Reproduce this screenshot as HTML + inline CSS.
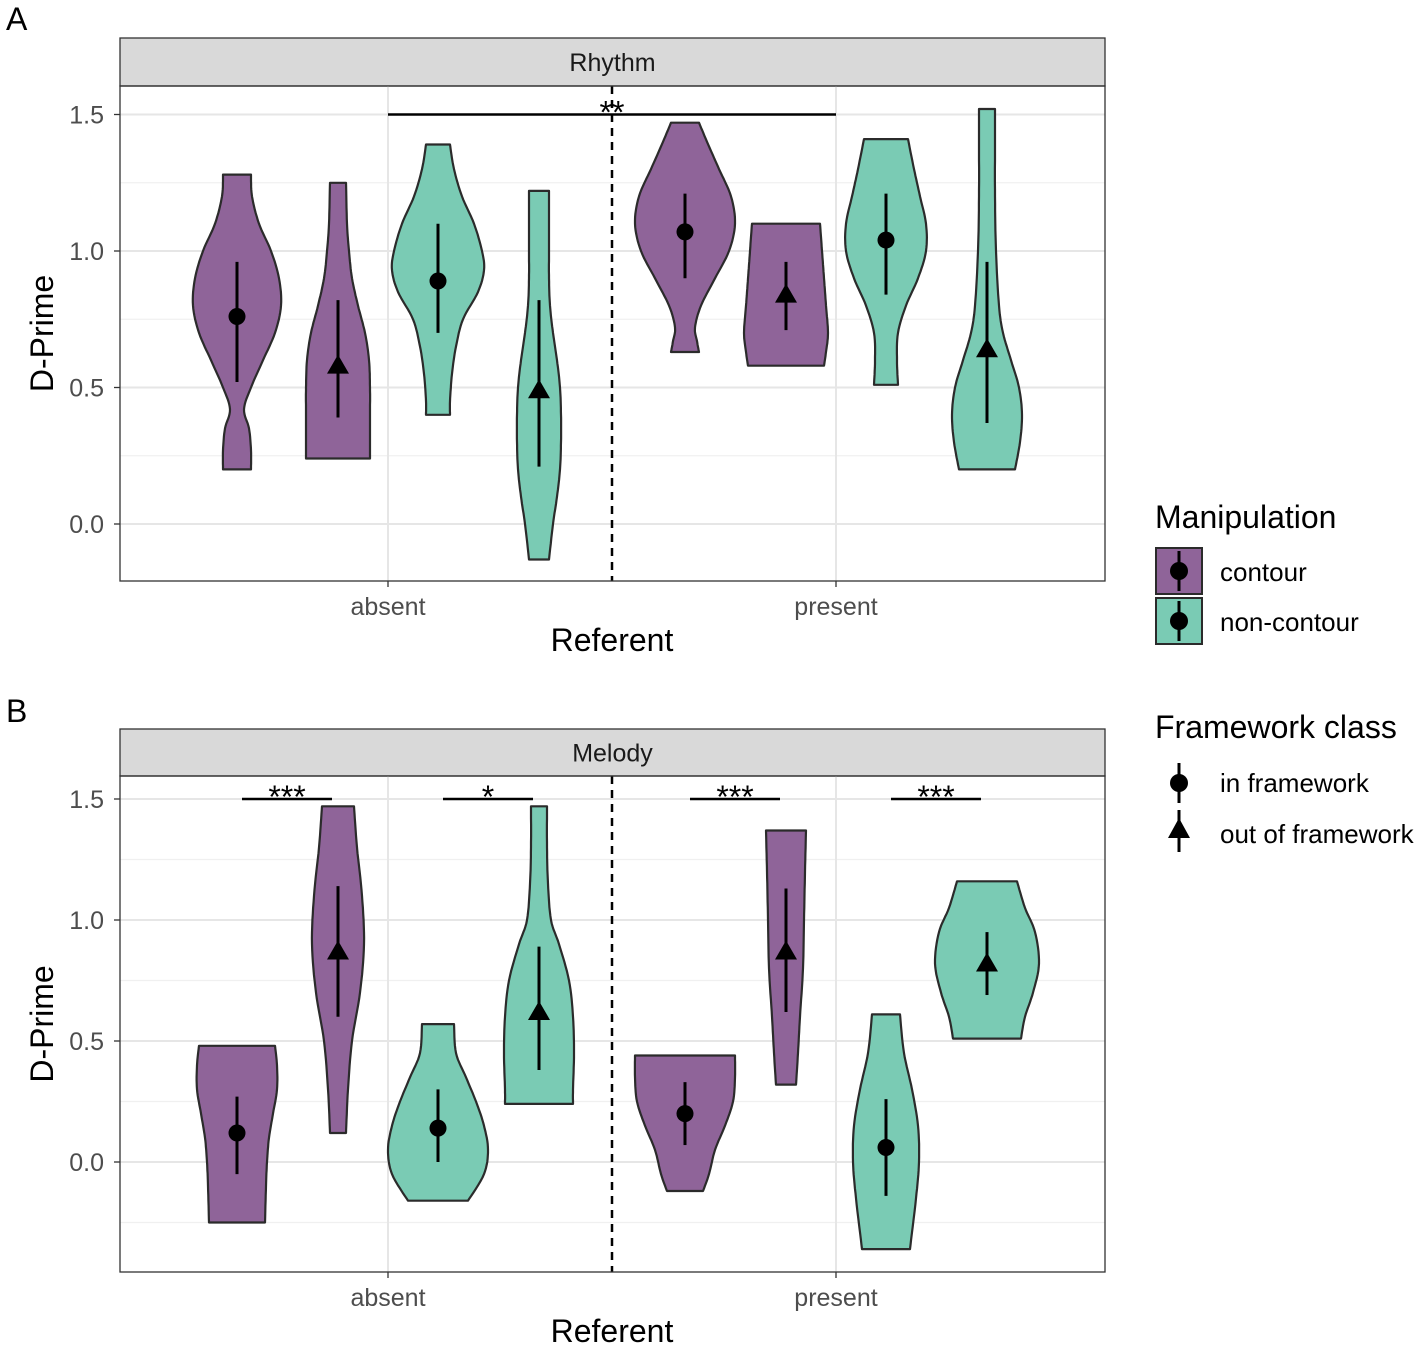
<!DOCTYPE html>
<html><head><meta charset="utf-8"><style>
body{margin:0;background:#fff;}
svg{display:block;font-family:"Liberation Sans",Arial,sans-serif;}
</style></head><body>
<svg id="chart" width="1417" height="1349" viewBox="0 0 1417 1349"></svg>
<script>
// ---- data ----
const groups = ['absent','present'];
const manip = ['contour','contour','non-contour','non-contour','contour','contour','non-contour','non-contour'];
const frame = ['in','out','in','out','in','out','in','out'];
const groupOfViolin = [0,0,0,0,1,1,1,1];
const yTicks = [0,0.5,1,1.5];
const yTickLabels = ['0.0','0.5','1.0','1.5'];

const pointA = [0.76,0.58,0.89,0.49,1.07,0.84,1.04,0.64];
const lowA   = [0.52,0.39,0.70,0.21,0.90,0.71,0.84,0.37];
const highA  = [0.96,0.82,1.10,0.82,1.21,0.96,1.21,0.96];
const shapeA = [
 [[1.28,14],[1.2,15],[1.1,22],[1.0,34],[0.9,42],[0.8,44],[0.7,38],[0.6,26],[0.5,14],[0.42,7],[0.35,12],[0.27,14],[0.2,14]],
 [[1.25,8],[1.1,9],[1.0,11],[0.9,14],[0.8,20],[0.7,27],[0.6,31],[0.5,32],[0.4,32],[0.3,32],[0.24,32]],
 [[1.39,12],[1.3,16],[1.2,24],[1.1,36],[1.0,44],[0.93,46],[0.85,40],[0.75,25],[0.65,18],[0.55,14],[0.45,12],[0.4,12]],
 [[1.22,10],[1.1,10],[1.0,10],[0.9,10],[0.8,11],[0.7,14],[0.6,18],[0.5,21],[0.4,22],[0.3,22],[0.2,21],[0.1,18],[0.0,14],[-0.13,10]],
 [[1.47,14],[1.4,22],[1.3,34],[1.2,46],[1.1,50],[1.0,44],[0.9,30],[0.8,16],[0.72,10],[0.67,12],[0.63,14]],
 [[1.1,34],[1.0,36],[0.9,38],[0.8,40],[0.7,42],[0.63,40],[0.58,38]],
 [[1.41,22],[1.3,28],[1.2,34],[1.1,40],[1.0,40],[0.9,32],[0.8,20],[0.7,12],[0.6,11],[0.51,12]],
 [[1.52,8],[1.4,8],[1.2,8],[1.0,9],[0.8,12],[0.7,16],[0.6,24],[0.5,32],[0.4,35],[0.3,33],[0.2,28]]
];
const pointB = [0.12,0.87,0.14,0.62,0.20,0.87,0.06,0.82];
const lowB   = [-0.05,0.60,0.00,0.38,0.07,0.62,-0.14,0.69];
const highB  = [0.27,1.14,0.30,0.89,0.33,1.13,0.26,0.95];
const shapeB = [
 [[0.48,38],[0.4,40],[0.3,40],[0.2,36],[0.1,32],[0.0,30],[-0.1,29],[-0.25,28]],
 [[1.47,16],[1.3,19],[1.1,24],[0.9,26],[0.7,22],[0.5,14],[0.3,10],[0.12,8]],
 [[0.57,16],[0.45,18],[0.35,28],[0.25,38],[0.15,46],[0.05,50],[-0.05,46],[-0.16,30]],
 [[1.47,8],[1.3,8],[1.15,9],[1.0,12],[0.9,20],[0.75,30],[0.6,34],[0.45,35],[0.3,34],[0.24,34]],
 [[0.44,50],[0.35,50],[0.25,48],[0.15,40],[0.05,30],[-0.05,24],[-0.12,18]],
 [[1.37,20],[1.2,19],[1.0,18],[0.8,17],[0.6,14],[0.45,12],[0.32,10]],
 [[0.61,14],[0.45,18],[0.3,26],[0.15,32],[0.0,33],[-0.15,30],[-0.36,24]],
 [[1.16,30],[1.05,38],[0.95,48],[0.82,52],[0.7,46],[0.6,38],[0.51,34]]
];
const sigA = [{from:0,to:1,label:'**'}];
const sigB = [{violins:[0,1],label:'***'},{violins:[2,3],label:'*'},{violins:[4,5],label:'***'},{violins:[6,7],label:'***'}];

// ---- drawing ----
const NS='http://www.w3.org/2000/svg';
const svg=document.getElementById('chart');
function el(tag,attrs,parent){const e=document.createElementNS(NS,tag);for(const k in attrs)e.setAttribute(k,attrs[k]);(parent||svg).appendChild(e);return e;}
const fills={'contour':'#8f6499','non-contour':'#7acbb4'};
const xGroup=i=>388+i*448;
const dodge=[-151,-50,50,151];
const xViolin=i=>xGroup(groupOfViolin[i])+dodge[i%4];

function smooth(pts){
  const out=[];
  for(let i=0;i<pts.length-1;i++){
    const p0=pts[Math.max(0,i-1)],p1=pts[i],p2=pts[i+1],p3=pts[Math.min(pts.length-1,i+2)];
    for(let t=0;t<1;t+=0.125){
      const t2=t*t,t3=t2*t;
      const f=(a,b,c,d)=>0.5*((2*b)+(-a+c)*t+(2*a-5*b+4*c-d)*t2+(-a+3*b-3*c+d)*t3);
      out.push([f(p0[0],p1[0],p2[0],p3[0]),f(p0[1],p1[1],p2[1],p3[1])]);
    }
  }
  out.push(pts[pts.length-1]);return out;
}

function panel(cfg){
  const {top,bottom,stripTop,title,y,points,lows,highs,shapes,tag}=cfg;
  const L=120,R=1105;
  const g=el('g',{},svg);
  
  el('rect',{x:L,y:stripTop,width:R-L,height:top-stripTop,fill:'#d9d9d9',stroke:'#333','stroke-width':1.3,},g);
  const st=el('text',{x:(L+R)/2,y:(stripTop+top)/2+9,'text-anchor':'middle','font-size':25,fill:'#1a1a1a',},g);st.textContent=title;
  const minors=[-0.25,0.25,0.75,1.25];
  minors.forEach(v=>{const yy=y(v);if(yy>top&&yy<bottom)el('line',{x1:L,x2:R,y1:yy,y2:yy,stroke:'#f0f0f0','stroke-width':1.2},g);});
  yTicks.forEach((v,i)=>{const yy=y(v);
    el('line',{x1:L,x2:R,y1:yy,y2:yy,stroke:'#e6e6e6','stroke-width':2},g);
    el('line',{x1:L-6,x2:L,y1:yy,y2:yy,stroke:'#333','stroke-width':1.3},g);
    const t=el('text',{x:104,y:yy+9,'text-anchor':'end','font-size':25,fill:'#4d4d4d',},g);t.textContent=yTickLabels[i];});
  groups.forEach((gname,i)=>{const xx=xGroup(i);
    el('line',{x1:xx,x2:xx,y1:top,y2:bottom,stroke:'#e6e6e6','stroke-width':2},g);
    el('line',{x1:xx,x2:xx,y1:bottom,y2:bottom+6,stroke:'#333','stroke-width':1.3},g);
    const t=el('text',{x:xx,y:bottom+34,'text-anchor':'middle','font-size':25,fill:'#4d4d4d',},g);t.textContent=gname;});
  shapes.forEach((sh,i)=>{
    const cx=xViolin(i);
    const right=smooth(sh.map(p=>[cx+p[1],y(p[0])]));
    const left=smooth(sh.slice().reverse().map(p=>[cx-p[1],y(p[0])]));
    const d='M'+right.concat(left).map(p=>p[0].toFixed(1)+','+p[1].toFixed(1)).join('L')+'Z';
    const p=el('path',{d:d,fill:fills[manip[i]],stroke:'#2b2b2b','stroke-width':2.2,'stroke-linejoin':'round'},g);
    
    
  });
  shapes.forEach((sh,i)=>{
    const cx=xViolin(i);
    el('line',{x1:cx,x2:cx,y1:y(lows[i]),y2:y(highs[i]),stroke:'#000','stroke-width':3},g);
    const py=y(points[i]);
    if(frame[i]==='in'){el('circle',{cx:cx,cy:py,r:8.5,fill:'#000',},g);}
    else{el('path',{d:`M${cx},${py-11}L${cx+11},${py+8}L${cx-11},${py+8}Z`,fill:'#000',},g);}
  });
  el('line',{x1:612,x2:612,y1:top,y2:bottom,stroke:'#000','stroke-width':2.5,'stroke-dasharray':'8,6',},g);
  el('rect',{x:L,y:top,width:R-L,height:bottom-top,fill:'none',stroke:'#333','stroke-width':1.3},g);
  const xt=el('text',{x:612,y:bottom+70,'text-anchor':'middle','font-size':32,fill:'#000',},g);xt.textContent='Referent';
  const yc=(top+bottom)/2;
  const yt=el('text',{x:0,y:0,transform:`translate(53,${yc}) rotate(-90)`,'text-anchor':'middle','font-size':32,fill:'#000',},g);yt.textContent='D-Prime';
  return g;
}

const yA=v=>524-273*v;
const gA=panel({top:86,bottom:581,stripTop:38,title:'Rhythm',y:yA,points:pointA,lows:lowA,highs:highA,shapes:shapeA,tag:'a'});
sigA.forEach(s=>{const x1=xGroup(s.from),x2=xGroup(s.to),yy=yA(1.5);
  el('line',{x1:x1,x2:x2,y1:yy,y2:yy,stroke:'#000','stroke-width':2.5,},gA);
  const t=el('text',{x:(x1+x2)/2,y:yy+9,'text-anchor':'middle','font-size':32,fill:'#000',},gA);t.textContent=s.label;});

const yB=v=>1162-242*v;
const gB=panel({top:776,bottom:1272,stripTop:729,title:'Melody',y:yB,points:pointB,lows:lowB,highs:highB,shapes:shapeB,tag:'b'});
sigB.forEach(s=>{const x1=xViolin(s.violins[0])+5,x2=xViolin(s.violins[1])-6,yy=yB(1.5);
  el('line',{x1:x1,x2:x2,y1:yy,y2:yy,stroke:'#000','stroke-width':2.5,},gB);
  const t=el('text',{x:(x1+x2)/2,y:yy+9,'text-anchor':'middle','font-size':32,fill:'#000',},gB);t.textContent=s.label;});

[['A',30],['B',722]].forEach(([l,yy])=>{const t=el('text',{x:6,y:yy,'font-size':32,fill:'#000',});t.textContent=l;});

const lg=el('g',{});
let t=el('text',{x:1155,y:528,'font-size':32,fill:'#000',},lg);t.textContent='Manipulation';
[['contour',548],['non-contour',598]].forEach(([m,yy])=>{
  el('rect',{x:1156,y:yy,width:46,height:46,fill:fills[m],stroke:'#2b2b2b','stroke-width':2,},lg);
  el('line',{x1:1179,x2:1179,y1:yy+3,y2:yy+43,stroke:'#000','stroke-width':3},lg);
  el('circle',{cx:1179,cy:yy+23,r:9,fill:'#000'},lg);
  const tt=el('text',{x:1220,y:yy+33,'font-size':26,fill:'#000',},lg);tt.textContent=m;});
t=el('text',{x:1155,y:738,'font-size':32,fill:'#000',},lg);t.textContent='Framework class';
el('line',{x1:1179,x2:1179,y1:763,y2:803,stroke:'#000','stroke-width':3},lg);
el('circle',{cx:1179,cy:783,r:9,fill:'#000',},lg);
t=el('text',{x:1220,y:792,'font-size':26,fill:'#000',},lg);t.textContent='in framework';
el('line',{x1:1179,x2:1179,y1:810,y2:852,stroke:'#000','stroke-width':3},lg);
el('path',{d:'M1179,818L1190,838L1168,838Z',fill:'#000',},lg);
t=el('text',{x:1220,y:843,'font-size':26,fill:'#000',},lg);t.textContent='out of framework';
</script>
</body></html>
